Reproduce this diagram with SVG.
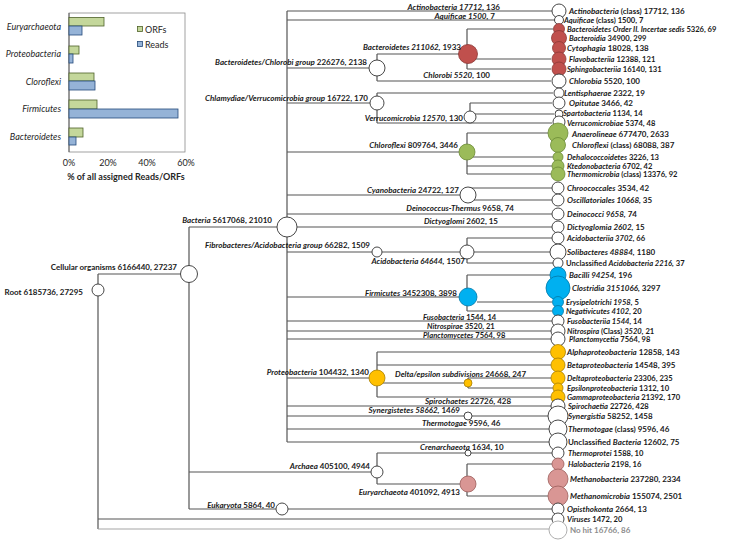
<svg xmlns="http://www.w3.org/2000/svg" width="733" height="541" viewBox="0 0 733 541">
<style>
.t{font-family:Lato,"Liberation Sans",sans-serif;font-weight:bold;font-size:8px;fill:#1a1a1a}
.s{font-size:7.6px}
.i{font-style:italic}
.e{text-anchor:end}
.ln{stroke:#555;stroke-width:1.2;fill:none}
.w{fill:#fff;stroke:#333;stroke-width:0.9}
.r{fill:#c0504d;stroke:#8c3836;stroke-width:0.8}
.g{fill:#9bbb59;stroke:#6b8a35;stroke-width:0.8}
.b{fill:#00b0f0;stroke:#0079a8;stroke-width:0.8}
.o{fill:#ffc000;stroke:#a87f00;stroke-width:0.8}
.p{fill:#d99694;stroke:#9c5d5a;stroke-width:0.8}
.ch{font-family:Lato,"Liberation Sans",sans-serif;font-size:9px;fill:#262626}
</style>
<rect width="733" height="541" fill="#fff"/>
<g id="chart">
<rect x="69" y="13" width="116" height="139" fill="none" stroke="#8a8a8a" stroke-width="0.8"/>
<line x1="69" y1="13" x2="69" y2="152" stroke="#555" stroke-width="0.9"/>
<g stroke-width="0.8">
<rect x="69" y="17.5" width="35" height="8.5" fill="#c4d79b" stroke="#4f6228"/>
<rect x="69" y="26" width="13" height="9" fill="#95b3d7" stroke="#244a7a"/>
<rect x="69" y="46" width="10" height="8" fill="#c4d79b" stroke="#4f6228"/>
<rect x="69" y="54" width="4" height="9" fill="#95b3d7" stroke="#244a7a"/>
<rect x="69" y="73" width="25" height="8" fill="#c4d79b" stroke="#4f6228"/>
<rect x="69" y="81" width="26" height="9" fill="#95b3d7" stroke="#244a7a"/>
<rect x="69" y="100" width="28" height="9" fill="#c4d79b" stroke="#4f6228"/>
<rect x="69" y="109" width="109" height="9" fill="#95b3d7" stroke="#244a7a"/>
<rect x="69" y="128" width="14" height="9" fill="#c4d79b" stroke="#4f6228"/>
<rect x="69" y="137" width="7" height="8" fill="#95b3d7" stroke="#244a7a"/>
<rect x="137.5" y="26.5" width="5" height="5" fill="#c4d79b" stroke="#4f6228"/>
<rect x="137.5" y="41.5" width="5" height="5" fill="#95b3d7" stroke="#244a7a"/>
</g>
<text class="ch" x="145" y="32.5">ORFs</text>
<text class="ch" x="145" y="47.5">Reads</text>
<g class="ch" font-style="italic" text-anchor="end">
<text x="61" y="30">Euryarchaeota</text>
<text x="61" y="57">Proteobacteria</text>
<text x="61" y="85">Cloroflexi</text>
<text x="61" y="112">Firmicutes</text>
<text x="61" y="140">Bacteroidetes</text>
</g>
<g class="ch" font-size="8.5" text-anchor="middle" fill="#404040">
<text x="69" y="166">0%</text>
<text x="108" y="166">20%</text>
<text x="147" y="166">40%</text>
<text x="186" y="166">60%</text>
</g>
<text class="ch" x="126" y="180" text-anchor="middle" font-weight="bold" font-size="8.5">% of all assigned Reads/ORFs</text>
</g>
<g id="connectors" class="ln">
<path d="M98 274V529M98 274H181M98 519H552"/>
<path d="M98 529H549" stroke="#a6a6a6"/>
<path d="M189 227V509M189 227H277M189 472H371M189 509H276M288 509H552"/>
<path d="M287 11V442M287 11H552M287 20H555M287 68H369M287 103H370M287 152H459M287 195H460M287 214H552M297 227H552M287 252H372M287 297H459M287 321H552M287 331H551M287 339H551M287 378H369M287 406H551M287 416H464M287 429H549M287 442H549"/>
<path d="M377 54V81M377 54H459M377 81H551"/>
<path d="M467 29V69M467 29H553M467 59H551M467 69H551"/>
<path d="M377 93V123M377 93H553M377 123H552M470 103V117M470 103H552M470 114H554"/>
<path d="M467 133V174M467 133H548M467 157H553M467 166H552M467 174H551"/>
<path d="M468 188V200M468 188H552M468 200H552"/>
<path d="M377 252H460M467 238V263M467 238H552M474 252H550M467 263H553"/>
<path d="M467 275V311M467 275H550M477 302H552M467 311H552"/>
<path d="M377 352V397M377 352H550M377 365H551M377 383H464M377 397H551M468 378V388M468 378H551M468 388H553"/>
<path d="M472 416H548"/>
<path d="M377 453V484M377 453H552M377 484H460M467 464V496M467 464H552M467 496H548"/>
</g>
<g id="root"><circle class="w" cx="98" cy="290" r="6"/><text class="t e" x="83" y="295">Root  6185736, 27295</text></g>
<g id="cellular"><circle class="w" cx="189" cy="274" r="8.5"/><text class="t e" x="177" y="270">Cellular organisms  6166440, 27237</text></g>
<g id="bacteria"><circle class="w" cx="287" cy="227" r="10"/><text class="t e" x="272" y="223"><tspan class="i">Bacteria</tspan> 5617068, 21010</text></g>
<g id="archaea"><circle class="w" cx="377" cy="472" r="6"/><text class="t e" x="370" y="469"><tspan class="i">Archaea</tspan> 405100, 4944</text></g>
<g id="eukaryota"><circle class="w" cx="282" cy="509" r="6"/><text class="t e" x="275" y="508"><tspan class="i">Eukaryota</tspan> 5864, 40</text></g>
<g id="actinobacteria"><text class="t e" x="500" y="9.5"><tspan class="i">Actinobacteria 17712,</tspan> 136</text></g>
<g id="aquificae"><text class="t e" x="495" y="18.5"><tspan class="i">Aquificae 1500,</tspan> 7</text></g>
<g id="bact-chlorobi"><circle class="w" cx="377" cy="68" r="8"/><text class="t e" x="367" y="65"><tspan class="i">Bacteroidetes/Chlorobi group</tspan>  226276, 2138</text></g>
<g id="bacteroidetes"><circle class="r" cx="468" cy="54" r="9.5"/><text class="t e" x="461" y="50"><tspan class="i">Bacteroidetes 211062,</tspan> 1933</text></g>
<g id="chlorobi"><text class="t e" x="490" y="78"><tspan class="i">Chlorobi 5520,</tspan> 100</text></g>
<g id="chlam-verruco"><circle class="w" cx="377" cy="103" r="7"/><text class="t e" x="368" y="101"><tspan class="i">Chlamydiae/Verrucomicrobia group</tspan>  16722, 170</text></g>
<g id="verrucomicrobia"><circle class="w" cx="470" cy="117" r="6"/><text class="t e" x="463" y="121"><tspan class="i">Verrucomicrobia 12570,</tspan> 130</text></g>
<g id="chloroflexi"><circle class="g" cx="467" cy="152" r="8"/><text class="t e" x="458" y="148"><tspan class="i">Chloroflexi</tspan> 809764, 3446</text></g>
<g id="cyanobacteria"><circle class="w" cx="468" cy="195" r="8"/><text class="t e" x="459" y="193"><tspan class="i">Cyanobacteria</tspan> 24722, 127</text></g>
<g id="deinococcus"><text class="t e" x="514" y="211"><tspan class="i">Deinococcus-Thermus</tspan> 9658, 74</text></g>
<g id="dictyoglomi"><text class="t e" x="498" y="224"><tspan class="i">Dictyoglomi</tspan> 2602, 15</text></g>
<g id="fibro-acido"><circle class="w" cx="377" cy="252" r="5"/><text class="t e" x="370" y="248"><tspan class="i">Fibrobacteres/Acidobacteria group</tspan>  66282, 1509</text></g>
<g id="acidobacteria"><circle class="w" cx="467" cy="252" r="7"/><text class="t e" x="465" y="264"><tspan class="i">Acidobacteria 64644,</tspan> 1507</text></g>
<g id="firmicutes"><circle class="b" cx="468" cy="297" r="9"/><text class="t e" x="457" y="296"><tspan class="i">Firmicutes</tspan> 3452308, 3898</text></g>
<g id="fusobacteria"><text class="t s" x="423" y="319.5"><tspan class="i">Fusobacteria</tspan>  1544, 14</text></g>
<g id="nitrospirae"><text class="t s" x="427" y="329"><tspan class="i">Nitrospirae</tspan> 3520, 21</text></g>
<g id="planctomycetes"><text class="t s" x="423" y="338"><tspan class="i">Planctomycetes</tspan> 7564, 98</text></g>
<g id="proteobacteria"><circle class="o" cx="377" cy="378" r="8"/><text class="t e" x="369" y="375"><tspan class="i">Proteobacteria</tspan>  104432, 1340</text></g>
<g id="delta-epsilon"><circle class="o" cx="468" cy="383" r="4"/><text class="t" x="395" y="377"><tspan class="i">Delta/epsilon subdivisions</tspan>  24668, 247</text></g>
<g id="spirochaetes"><text class="t" x="425" y="403.5"><tspan class="i">Spirochaetes</tspan>  22726, 428</text></g>
<g id="synergistetes"><circle class="w" cx="468" cy="416" r="4"/><text class="t e" x="460" y="412.5"><tspan class="i">Synergistetes 58662,</tspan> 1469</text></g>
<g id="thermotogae"><text class="t" x="422" y="426"><tspan class="i">Thermotogae</tspan>  9596, 46</text></g>
<g id="crenarchaeota"><circle class="w" cx="468" cy="453" r="3"/><text class="t" x="420" y="450"><tspan class="i">Crenarchaeota</tspan>  1634, 10</text></g>
<g id="euryarchaeota"><circle class="p" cx="468" cy="484" r="8"/><text class="t e" x="460" y="495"><tspan class="i">Euryarchaeota</tspan> 401092, 4913</text></g>
<g id="l-actinobacteria"><circle class="w" cx="559" cy="11" r="7"/><text class="t" x="569" y="14"><tspan class="i">Actinobacteria</tspan> (class)  17712, 136</text></g>
<g id="l-aquificae"><circle class="w" cx="559" cy="20" r="4.5"/><text class="t s" x="564" y="23"><tspan class="i">Aquificae</tspan> (class)  1500, 7</text></g>
<g id="l-orderII"><circle class="r" cx="559" cy="29" r="5.5"/><text class="t s" x="567" y="32"><tspan class="i">Bacteroidetes Order II. Incertae sedis</tspan>  5326, 69</text></g>
<g id="l-bacteroidia"><circle class="r" cx="559" cy="38" r="7.5"/><text class="t s" x="569" y="41"><tspan class="i">Bacteroidia</tspan>  34900, 299</text></g>
<g id="l-cytophagia"><circle class="r" cx="559" cy="48" r="6.5"/><text class="t" x="567" y="51"><tspan class="i">Cytophagia</tspan>  18028, 138</text></g>
<g id="l-flavobacteriia"><circle class="r" cx="559" cy="59" r="7"/><text class="t s" x="569" y="62"><tspan class="i">Flavobacteriia</tspan>  12388, 121</text></g>
<g id="l-sphingobacteriia"><circle class="r" cx="559" cy="69" r="7"/><text class="t s" x="567" y="71.5"><tspan class="i">Sphingobacteriia</tspan>  16140, 131</text></g>
<g id="l-chlorobia"><circle class="w" cx="559" cy="81" r="7"/><text class="t" x="569" y="84"><tspan class="i">Chlorobia</tspan>  5520, 100</text></g>
<g id="l-lentisphaerae"><circle class="w" cx="559" cy="93" r="5"/><text class="t" x="564" y="96"><tspan class="i">Lentisphaerae</tspan>  2322, 19</text></g>
<g id="l-opitutae"><circle class="w" cx="559" cy="103" r="6"/><text class="t" x="569" y="106"><tspan class="i">Opitutae</tspan>  3466, 42</text></g>
<g id="l-spartobacteria"><circle class="w" cx="559" cy="114" r="4"/><text class="t s" x="563" y="116"><tspan class="i">Spartobacteria</tspan>  1134, 14</text></g>
<g id="l-verrucomicrobiae"><circle class="w" cx="559" cy="122" r="6"/><text class="t s" x="567" y="125.5"><tspan class="i">Verrucomicrobiae</tspan>  5374, 48</text></g>
<g id="l-anaerolineae"><circle class="g" cx="558" cy="133" r="10"/><text class="t" x="572" y="136.5"><tspan class="i">Anaerolineae</tspan>  677470, 2633</text></g>
<g id="l-chloroflexi"><circle class="g" cx="558" cy="145" r="7.5"/><text class="t" x="572" y="148"><tspan class="i">Chloroflexi</tspan> (class)  68088, 387</text></g>
<g id="l-dehalococcoidetes"><circle class="g" cx="558" cy="157" r="5"/><text class="t s" x="567" y="160"><tspan class="i">Dehalococcoidetes</tspan>  3226, 13</text></g>
<g id="l-ktedonobacteria"><circle class="g" cx="558" cy="166" r="6"/><text class="t s" x="567" y="168.5"><tspan class="i">Ktedonobacteria</tspan>  6702, 42</text></g>
<g id="l-thermomicrobia"><circle class="g" cx="558" cy="174" r="7"/><text class="t s" x="567" y="177"><tspan class="i">Thermomicrobia</tspan> (class)  13376,  92</text></g>
<g id="l-chroococcales"><circle class="w" cx="558" cy="188" r="6"/><text class="t" x="567" y="191"><tspan class="i">Chroococcales</tspan> 3534,  42</text></g>
<g id="l-oscillatoriales"><circle class="w" cx="558" cy="200" r="6"/><text class="t" x="567" y="203"><tspan class="i">Oscillatoriales 10668,</tspan>  35</text></g>
<g id="l-deinococci"><circle class="w" cx="558" cy="214" r="6"/><text class="t" x="567" y="217"><tspan class="i">Deinococci 9658,</tspan>  74</text></g>
<g id="l-dictyoglomia"><circle class="w" cx="558" cy="227" r="6"/><text class="t" x="567" y="230"><tspan class="i">Dictyoglomia 2602,</tspan>  15</text></g>
<g id="l-acidobacteriia"><circle class="w" cx="558" cy="238" r="6"/><text class="t s" x="567" y="240.5"><tspan class="i">Acidobacteriia 3702,</tspan>  66</text></g>
<g id="l-solibacteres"><circle class="w" cx="558" cy="252" r="8"/><text class="t" x="567" y="255"><tspan class="i">Solibacteres 48884,</tspan>  1180</text></g>
<g id="l-unclass-acido"><circle class="w" cx="558" cy="263" r="5"/><text class="t s" x="566" y="266">Unclassified <tspan class="i">Acidobacteria  2216,</tspan>  37</text></g>
<g id="l-bacilli"><circle class="b" cx="558" cy="275" r="8"/><text class="t" x="569" y="278"><tspan class="i">Bacilli 94254,</tspan>  196</text></g>
<g id="l-clostridia"><circle class="b" cx="558" cy="288" r="12"/><text class="t" x="572" y="291"><tspan class="i">Clostridia 3151066,</tspan>  3297</text></g>
<g id="l-erysipelotrichi"><circle class="b" cx="558" cy="302" r="5.5"/><text class="t s" x="566" y="305"><tspan class="i">Erysipelotrichi 1958,</tspan>  5</text></g>
<g id="l-negativicutes"><circle class="b" cx="558" cy="311" r="5.5"/><text class="t s" x="566" y="314"><tspan class="i">Negativicutes 4102,</tspan>  20</text></g>
<g id="l-fusobacteriia"><circle class="w" cx="558" cy="321" r="6"/><text class="t s" x="567" y="323.5"><tspan class="i">Fusobacteriia 1544,</tspan>  14</text></g>
<g id="l-nitrospira"><circle class="w" cx="558" cy="331" r="7"/><text class="t s" x="567" y="333.5"><tspan class="i">Nitrospira</tspan> (Class)  <tspan class="i">3520,</tspan> 21</text></g>
<g id="l-planctomycetia"><circle class="w" cx="558" cy="339" r="7"/><text class="t s" x="569" y="342"><tspan class="i">Planctomycetia</tspan>  7564, 98</text></g>
<g id="l-alpha"><circle class="o" cx="558" cy="352" r="7.5"/><text class="t" x="567" y="355"><tspan class="i">Alphaproteobacteria</tspan>  12858, 143</text></g>
<g id="l-beta"><circle class="o" cx="558" cy="365" r="7"/><text class="t" x="567" y="368"><tspan class="i">Betaproteobacteria</tspan>  14548, 395</text></g>
<g id="l-delta"><circle class="o" cx="558" cy="378" r="7"/><text class="t s" x="567" y="380.5"><tspan class="i">Deltaproteobacteria</tspan>  23306, 235</text></g>
<g id="l-epsilon"><circle class="o" cx="558" cy="388" r="5"/><text class="t s" x="567" y="390.5"><tspan class="i">Epsilonproteobacteria</tspan>  1312, 10</text></g>
<g id="l-gamma"><circle class="o" cx="558" cy="397" r="7"/><text class="t s" x="567" y="400"><tspan class="i">Gammaproteobacteria</tspan>  21392, 170</text></g>
<g id="l-spirochaetia"><circle class="w" cx="558" cy="406" r="7"/><text class="t s" x="568" y="408.5"><tspan class="i">Spirochaetia</tspan>  22726, 428</text></g>
<g id="l-synergistia"><circle class="w" cx="558" cy="416" r="10"/><text class="t" x="568" y="419"><tspan class="i">Synergistia</tspan>  58252, 1458</text></g>
<g id="l-thermotogae"><circle class="w" cx="558" cy="429" r="9"/><text class="t" x="568" y="432"><tspan class="i">Thermotogae</tspan> (class)  9596, 46</text></g>
<g id="l-unclass-bact"><circle class="w" cx="558" cy="442" r="9"/><text class="t" x="568" y="445">Unclassified <tspan class="i">Bacteria</tspan>  12602, 75</text></g>
<g id="l-thermoprotei"><circle class="w" cx="558" cy="453" r="6"/><text class="t s" x="568" y="456"><tspan class="i">Thermoprotei</tspan>  1588, 10</text></g>
<g id="l-halobacteria"><circle class="p" cx="558" cy="464" r="6"/><text class="t s" x="568" y="467"><tspan class="i">Halobacteria</tspan>  2198, 16</text></g>
<g id="l-methanobacteria"><circle class="p" cx="558" cy="479" r="10"/><text class="t" x="570" y="482"><tspan class="i">Methanobacteria</tspan>  237280, 2334</text></g>
<g id="l-methanomicrobia"><circle class="p" cx="558" cy="496" r="10"/><text class="t" x="570" y="499"><tspan class="i">Methanomicrobia</tspan>  155074, 2501</text></g>
<g id="l-opisthokonta"><circle class="w" cx="558" cy="509" r="6"/><text class="t" x="567" y="511.5"><tspan class="i">Opisthokonta</tspan>  2664, 13</text></g>
<g id="l-viruses"><circle class="w" cx="558" cy="519" r="6"/><text class="t s" x="567" y="522"><tspan class="i">Viruses</tspan>  1472, 20</text></g>
<g id="l-nohit"><circle cx="558" cy="530" r="9" fill="#fff" stroke="#a6a6a6" stroke-width="0.9"/><text class="t" x="570" y="533" style="fill:#8c8c8c">No hit  16766, 86</text></g>
</svg>
